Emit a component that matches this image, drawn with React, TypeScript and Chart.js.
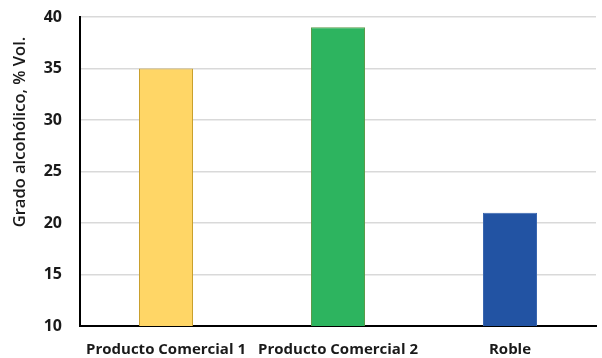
import React, { useEffect, useRef } from "react";
import { Chart, registerables } from "chart.js";

Chart.register(...registerables);

const categories = ["Producto Comercial 1", "Producto Comercial 2", "Roble"];
const alcoholValues = [35, 39, 21];
const barColors = ["#FFD666", "#2DB45F", "#2253A3"];
const barBorders = ["#C9A02E", "#5C9A4A", "#3A67B0"];
const yTicks = [10, 15, 20, 25, 30, 35, 40];
const yTitle = "Grado alcohólico, % Vol.";

// Rotated y-axis caption, set a little above the middle of the plot
const yTitlePlugin = {
  id: "yTitle",
  afterDraw(chart: any) {
    const { ctx, chartArea } = chart;
    ctx.save();
    ctx.translate(20, chartArea.top + 115);
    ctx.rotate(-Math.PI / 2);
    ctx.font = "600 16.5px 'Open Sans'";
    ctx.fillStyle = "#1a1a1a";
    ctx.textAlign = "center";
    ctx.textBaseline = "middle";
    ctx.fillText(yTitle, 0, 0);
    ctx.restore();
  },
};

export default function App() {
  const canvasRef = useRef<HTMLCanvasElement>(null);

  useEffect(() => {
    document.body.style.margin = "0";
    const canvas = canvasRef.current;
    if (!canvas) return;
    const chart = new Chart(canvas, {
      type: "bar",
      data: {
        labels: categories,
        datasets: [
          {
            data: alcoholValues,
            backgroundColor: barColors,
            borderColor: barBorders,
            borderWidth: 1,
            barPercentage: 0.314,
            categoryPercentage: 1,
          },
        ],
      },
      options: {
        animation: false,
        responsive: false,
        maintainAspectRatio: false,
        layout: { padding: { top: 17, right: 6, bottom: 0, left: 0 } },
        plugins: { legend: { display: false }, tooltip: { enabled: false } },
        scales: {
          x: {
            grid: { display: false, drawTicks: false },
            border: { color: "#000000", width: 2 },
            ticks: {
              color: "#1a1a1a",
              font: { family: "Open Sans", size: 15, weight: "bold" },
              padding: 15,
              maxRotation: 0,
              autoSkip: false,
            },
            afterFit: (scale: any) => {
              scale.height = 32;
            },
          },
          y: {
            min: 10,
            max: 40,
            afterBuildTicks: (scale: any) => {
              scale.ticks = yTicks.map((v) => ({ value: v }));
            },
            grid: { color: "#D9D9D9", lineWidth: 1.5, drawTicks: false },
            border: { color: "#000000", width: 2 },
            ticks: {
              color: "#1a1a1a",
              font: { family: "Open Sans", size: 16, weight: "bold" },
              padding: 18,
            },
            afterFit: (scale: any) => {
              scale.width = 80;
              scale.paddingTop = 0;
              scale.paddingBottom = 0;
            },
          },
        },
      },
      plugins: [yTitlePlugin],
    });
    return () => chart.destroy();
  }, []);

  return (
    <div style={{ width: 602, height: 358, background: "#ffffff" }}>
      <canvas ref={canvasRef} width={602} height={358} />
    </div>
  );
}
